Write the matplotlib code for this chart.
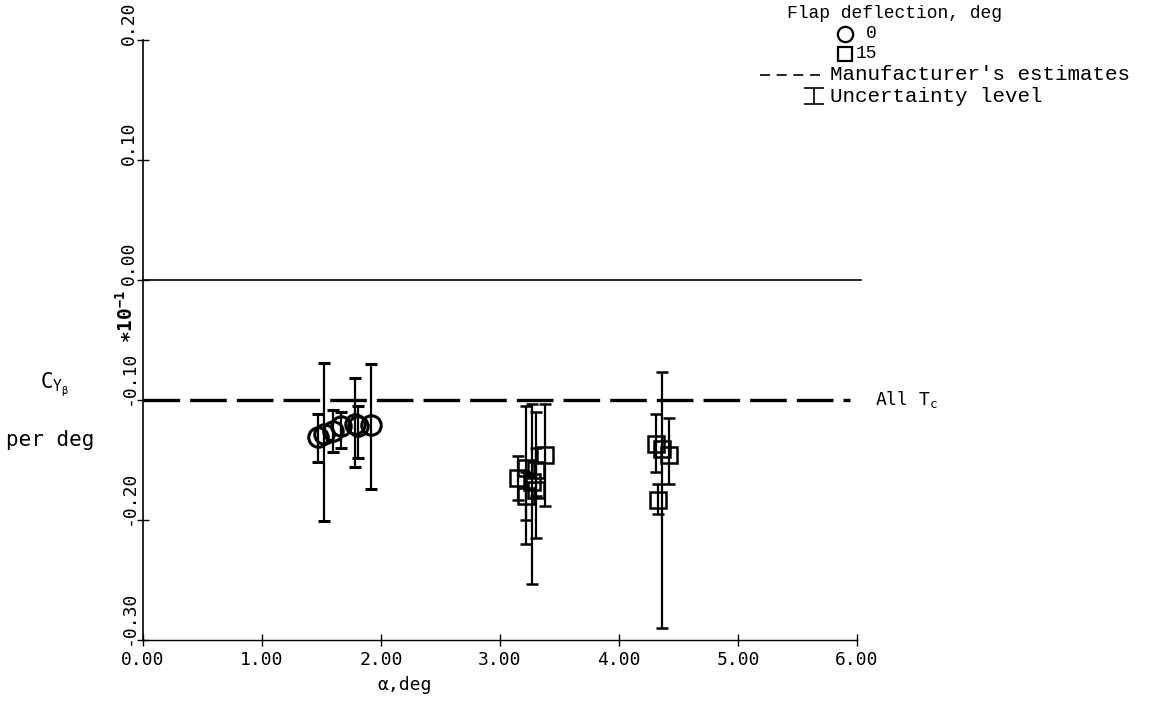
import matplotlib.pyplot as plt
from matplotlib.transforms import ScaledTranslation

# flap deflection 0 deg (circles)
alpha_0 = [1.47, 1.52, 1.60, 1.66, 1.78, 1.81, 1.92]
cy_0 = [-0.131, -0.128, -0.126, -0.122, -0.120, -0.122, -0.121]
lo_0 = [-0.152, -0.201, -0.143, -0.140, -0.156, -0.148, -0.174]
hi_0 = [-0.112, -0.069, -0.108, -0.110, -0.082, -0.105, -0.070]

# flap deflection 15 deg (squares)
alpha_15 = [3.15, 3.22, 3.22, 3.27, 3.30, 3.30, 3.38, 4.31, 4.36, 4.42, 4.33]
cy_15 = [-0.165, -0.157, -0.180, -0.168, -0.175, -0.158, -0.146,
         -0.137, -0.141, -0.146, -0.183]
lo_15 = [-0.183, -0.220, -0.200, -0.253, -0.215, -0.180, -0.188,
         -0.160, -0.290, -0.170, -0.195]
hi_15 = [-0.147, -0.105, -0.160, -0.103, -0.110, -0.140, -0.103,
         -0.112, -0.077, -0.115, -0.170]

manufacturer_est = -0.10
x_ticks = [0, 1, 2, 3, 4, 5, 6]
x_labels = ['0.00', '1.00', '2.00', '3.00', '4.00', '5.00', '6.00']
y_ticks = [-0.30, -0.20, -0.10, 0.00, 0.10, 0.20]
y_labels = ['-0.30', '-0.20', '-0.10', '0.00', '0.10', '0.20']

mono = 'DejaVu Sans Mono'
cour = 'Liberation Mono'

fig = plt.figure(figsize=(11.59, 7.07), dpi=100)
ax = fig.add_axes([0.1234, 0.0948, 0.616, 0.8487])
ax.set_xlim(0, 6)
ax.set_ylim(-0.30, 0.20)
for s in ['top', 'right']:
    ax.spines[s].set_visible(False)
ax.spines['left'].set_linewidth(1.2)
ax.spines['bottom'].set_linewidth(1.0)

# reference lines
ax.axhline(0, color='k', lw=1.2, xmax=1.005, clip_on=False)
ax.axhline(manufacturer_est, color='k', lw=2.4, dashes=(11, 3), xmax=0.99)
ax.text(6.15, manufacturer_est, 'All T$_\\mathregular{c}$', fontsize=13,
        family=mono, va='center', ha='left')

# data
def yerr(cy, lo, hi):
    return [[c - l for c, l in zip(cy, lo)], [h - c for c, h in zip(cy, hi)]]

ax.errorbar(alpha_0, cy_0, yerr=yerr(cy_0, lo_0, hi_0), fmt='o', ms=14,
            mfc='none', mec='k', mew=2.2, ecolor='k', elinewidth=1.6,
            capsize=4, capthick=1.6, clip_on=False)
ax.errorbar(alpha_15, cy_15, yerr=yerr(cy_15, lo_15, hi_15), fmt='s', ms=11,
            mfc='none', mec='k', mew=1.8, ecolor='k', elinewidth=1.6,
            capsize=4, capthick=1.6, clip_on=False)

# ticks
ax.set_xticks(x_ticks)
ax.set_xticklabels(x_labels, family=mono, fontsize=13)
ax.tick_params(axis='x', direction='inout', length=8, width=1, pad=4)
ax.set_yticks(y_ticks)
ax.set_yticklabels([])
ax.tick_params(axis='y', direction='inout', length=8, width=1)
ytrans = ax.get_yaxis_transform() + ScaledTranslation(-0.05, -0.05, fig.dpi_scale_trans)
for v, lab in zip(y_ticks, y_labels):
    ax.text(0, v, lab, transform=ytrans, rotation=90, ha='right', va='bottom',
            family=mono, fontsize=13)

# axis labels
ax.set_xlabel('\u03b1,deg', family=mono, fontsize=13)
ax.xaxis.set_label_coords(0.367, -0.06)
fig.text(55 / 1159, 1 - 385 / 707, '$\\mathregular{C_{Y_\\beta}}$', family=mono,
         fontsize=15, ha='center', va='center')
fig.text(50 / 1159, 1 - 440 / 707, 'per deg', family=mono, fontsize=15,
         ha='center', va='center')
fig.text(126 / 1159, 1 - 316 / 707, '\u2217$\\mathregular{10^{-1}}$', family=mono,
         fontsize=14, rotation=90, ha='center', va='center', weight='bold')

# legend drawn in pixel space
lg = fig.add_axes([0, 0, 1, 1], facecolor='none')
lg.set_xlim(0, 1159)
lg.set_ylim(707, 0)
lg.axis('off')
lg.text(787, 14, 'Flap deflection, deg', family=cour, fontsize=13, va='center')
lg.plot([845], [34], 'o', ms=11, mfc='none', mec='k', mew=1.6)
lg.text(866, 34, '0', family=cour, fontsize=13, va='center')
lg.plot([845], [54], 's', ms=10, mfc='none', mec='k', mew=1.6)
lg.text(856, 54, '15', family=cour, fontsize=13, va='center')
lg.plot([760, 822], [75, 75], color='k', lw=1.2, dashes=(6, 4))
lg.text(830, 75, "Manufacturer's estimates", family=cour, fontsize=15, va='center')
lg.errorbar([814], [96], yerr=[[8], [8]], fmt='none', ecolor='k', elinewidth=1.2,
            capsize=7, capthick=1.2)
lg.text(830, 96, 'Uncertainty level', family=cour, fontsize=15, va='center')

fig.savefig('out.png', dpi=100, facecolor='white')
